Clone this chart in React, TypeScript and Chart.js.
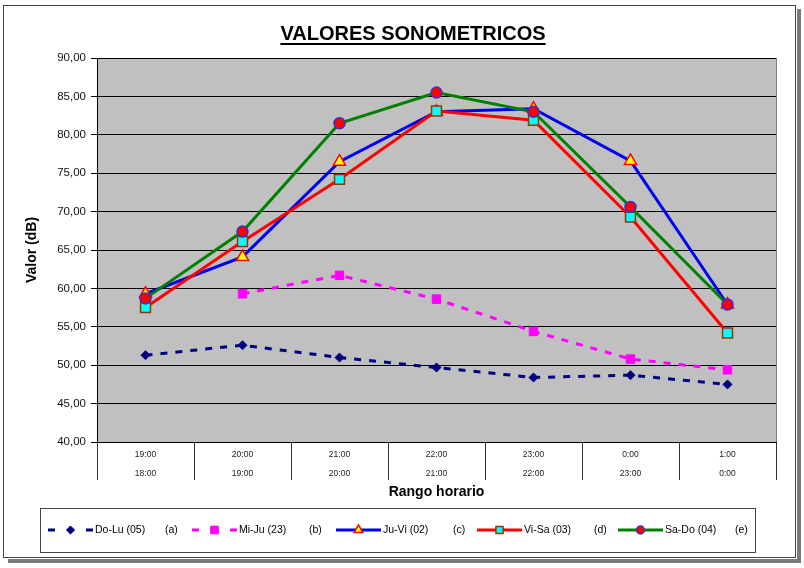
import React, { useEffect, useRef } from 'react';
import { Chart, registerables } from 'chart.js';
import { drawPoint } from 'chart.js/helpers';

Chart.register(...registerables);

const FONT = '"Liberation Sans", Arial, Helvetica, sans-serif';

const titleText = 'VALORES SONOMETRICOS';
const yTitle = 'Valor (dB)';
const xTitle = 'Rango horario';

const startHours = ['19:00', '20:00', '21:00', '22:00', '23:00', '0:00', '1:00'];
const endHours = ['18:00', '19:00', '20:00', '21:00', '22:00', '23:00', '0:00'];

const doLu = [51.3, 52.6, 51.0, 49.7, 48.4, 48.7, 47.5];
const miJu = [null, 59.3, 61.7, 58.6, 54.4, 50.8, 49.4];
const juVi = [59.3, 64.1, 76.5, 83.0, 83.4, 76.6, 57.9];
const viSa = [57.5, 66.1, 74.2, 83.1, 81.9, 69.3, 54.2];
const saDo = [58.7, 67.4, 81.5, 85.5, 83.0, 70.6, 57.9];

const seriesNames = ['Do-Lu (05)', 'Mi-Ju (23)', 'Ju-Vi (02)', 'Vi-Sa (03)', 'Sa-Do (04)'];
const seriesTags = ['(a)', '(b)', '(c)', '(d)', '(e)'];

const yMin = 40;
const yMax = 90;
const yStep = 5;

const framePlugin = {
  id: 'framePlugin',
  beforeDraw(chart: any) {
    const { ctx, chartArea } = chart;
    ctx.save();
    ctx.fillStyle = '#ffffff';
    ctx.fillRect(0, 0, chart.width, chart.height);
    // shadow
    ctx.fillStyle = '#7a7a7a';
    ctx.fillRect(797, 9, 4, 553);
    ctx.fillRect(8, 559, 793, 4);
    // frame
    ctx.strokeStyle = '#444444';
    ctx.lineWidth = 1;
    ctx.strokeRect(3.5, 5.5, 792, 552);
    // plot background
    ctx.fillStyle = '#c0c0c0';
    ctx.fillRect(chartArea.left, chartArea.top, chartArea.right - chartArea.left, chartArea.bottom - chartArea.top);
    ctx.restore();
  },
  beforeDatasetsDraw(chart: any) {
    const { ctx, chartArea } = chart;
    ctx.save();
    ctx.strokeStyle = '#808080';
    ctx.lineWidth = 1;
    ctx.beginPath();
    ctx.moveTo(chartArea.right + 0.5, chartArea.top);
    ctx.lineTo(chartArea.right + 0.5, chartArea.bottom);
    ctx.stroke();
    ctx.restore();
  },
  afterDraw(chart: any) {
    const { ctx } = chart;
    ctx.save();
    // title
    ctx.font = `bold 20px ${FONT}`;
    ctx.fillStyle = '#000';
    ctx.textAlign = 'center';
    ctx.textBaseline = 'alphabetic';
    const tx = 413;
    const ty = 40;
    ctx.fillText(titleText, tx, ty);
    const tw = ctx.measureText(titleText).width;
    ctx.fillRect(tx - tw / 2, ty + 3, tw, 2);

    // legend box
    ctx.strokeStyle = '#444444';
    ctx.lineWidth = 1;
    ctx.strokeRect(40.5, 508.5, 715, 44);
    const cy = 530;
    const x0s = [48, 192, 336, 477, 618];
    chart.data.datasets.forEach((ds: any, i: number) => {
      const x0 = x0s[i];
      const w = 45;
      const dashed = ds.borderDash && ds.borderDash.length;
      ctx.save();
      ctx.strokeStyle = ds.borderColor;
      ctx.lineWidth = ds.borderWidth;
      ctx.setLineDash(dashed ? [7, 31] : []);
      ctx.beginPath();
      ctx.moveTo(x0, cy);
      ctx.lineTo(x0 + w, cy);
      ctx.stroke();
      ctx.setLineDash([]);
      ctx.fillStyle = ds.pointBackgroundColor;
      ctx.strokeStyle = ds.pointBorderColor;
      ctx.lineWidth = ds.pointBorderWidth;
      drawPoint(ctx, { pointStyle: ds.pointStyle, radius: ds.pointRadius * (dashed ? 0.9 : 0.72), borderWidth: ds.pointBorderWidth, rotation: 0 } as any, x0 + w / 2, cy);
      ctx.restore();
      ctx.font = `10.5px ${FONT}`;
      ctx.fillStyle = '#000';
      ctx.textAlign = 'left';
      ctx.textBaseline = 'middle';
      ctx.fillText(seriesNames[i], x0 + w + 2, cy);
      ctx.fillText(seriesTags[i], x0 + 117, cy);
    });
    ctx.restore();
  },
};

export default function App() {
  const ref = useRef<HTMLCanvasElement | null>(null);
  useEffect(() => {
    document.body.style.margin = '0';
    const canvas = ref.current;
    if (!canvas) return;
    const labels = startHours.map((s, i) => [s, endHours[i]]);
    const chart = new Chart(canvas, {
      type: 'line',
      data: {
        labels,
        datasets: [
          {
            label: seriesNames[0], data: doLu, borderColor: '#000080', borderWidth: 3, borderDash: [7, 8],
            pointStyle: 'rectRot', pointRadius: 4.5, pointBackgroundColor: '#000080', pointBorderColor: '#000080',
            pointBorderWidth: 1, order: 5, tension: 0, fill: false,
          },
          {
            label: seriesNames[1], data: miJu, borderColor: '#ff00ff', borderWidth: 3, borderDash: [7, 8],
            pointStyle: 'rect', pointRadius: 6, pointBackgroundColor: '#ff00ff', pointBorderColor: '#ff00ff',
            pointBorderWidth: 1, order: 4, tension: 0, fill: false,
          },
          {
            label: seriesNames[2], data: juVi, borderColor: '#0000f0', borderWidth: 3, borderDash: [],
            pointStyle: 'triangle', pointRadius: 7, pointBackgroundColor: '#ffff00', pointBorderColor: '#ff0000',
            pointBorderWidth: 1.5, order: 3, tension: 0, fill: false,
          },
          {
            label: seriesNames[3], data: viSa, borderColor: '#ff0000', borderWidth: 3, borderDash: [],
            pointStyle: 'rect', pointRadius: 7, pointBackgroundColor: '#00ffff', pointBorderColor: '#993300',
            pointBorderWidth: 1.5, order: 2, tension: 0, fill: false,
          },
          {
            label: seriesNames[4], data: saDo, borderColor: '#008000', borderWidth: 3, borderDash: [],
            pointStyle: 'circle', pointRadius: 5.5, pointBackgroundColor: '#ff0000', pointBorderColor: '#3333cc',
            pointBorderWidth: 1.5, order: 1, tension: 0, fill: false,
          },
        ] as any,
      },
      options: {
        responsive: false,
        animation: false,
        devicePixelRatio: 1,
        layout: { padding: { left: 10, right: 28, top: 58, bottom: 66 } },
        plugins: {
          legend: { display: false },
          title: { display: false },
          tooltip: { enabled: false },
        },
        scales: {
          x: {
            type: 'category',
            offset: true,
            afterFit(scale: any) { scale.height = 60; },
            grid: { offset: true, drawOnChartArea: false, tickLength: 38, color: '#333333', lineWidth: 1 },
            border: { display: true, color: '#000000', width: 1 },
            ticks: {
              padding: -34.5, color: '#222', maxRotation: 0, autoSkip: false,
              font: { size: 8.5, family: FONT, lineHeight: '19px' } as any,
            },
            title: {
              display: true, text: xTitle, color: '#000',
              font: { size: 14, weight: 'bold', family: FONT }, padding: { top: 0, bottom: 1 },
            },
          },
          y: {
            min: yMin, max: yMax,
            afterFit(scale: any) { scale.width = 87; },
            grid: { color: '#000000', lineWidth: 1, tickLength: 6, tickColor: '#000000' },
            border: { display: true, color: '#000000', width: 1 },
            ticks: {
              stepSize: yStep, padding: 5, color: '#111',
              font: { size: 11.5, family: FONT },
              callback: (v: any) => Number(v).toFixed(2).replace('.', ','),
            },
            title: {
              display: true, text: yTitle, color: '#000',
              font: { size: 14, weight: 'bold', family: FONT }, padding: { top: 13.6, bottom: 0 },
            },
          },
        },
      } as any,
      plugins: [framePlugin],
    });
    return () => chart.destroy();
  }, []);
  return <canvas ref={ref} width={804} height={568} style={{ display: 'block', width: 804, height: 568 }} />;
}
